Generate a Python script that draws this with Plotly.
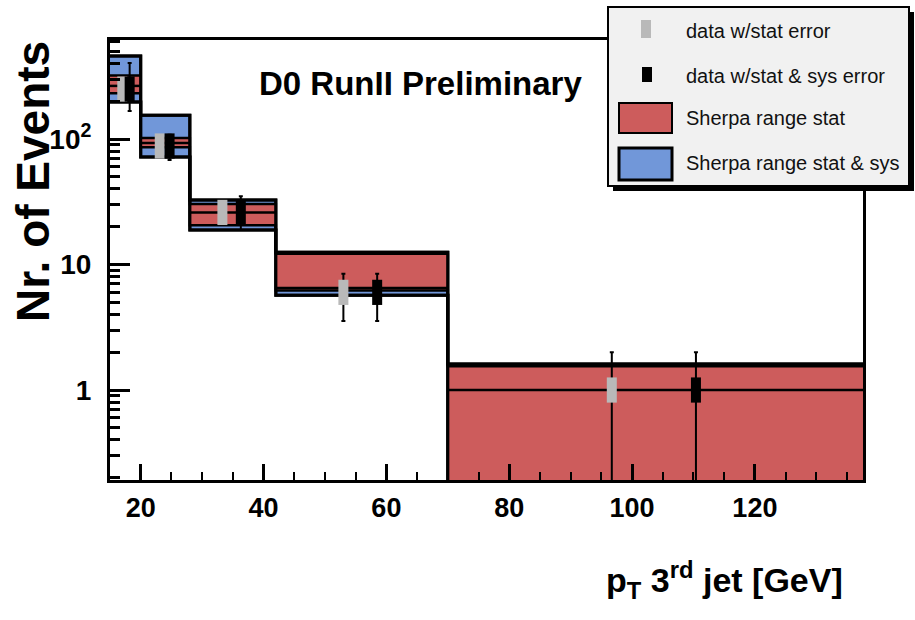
import numpy as np
import plotly.graph_objects as go

# ---------------- data ----------------
bin_edges = [15, 20, 28, 42, 70, 140]
sherpa_central = [265, 93, 26, 6.5, 1.0]
sherpa_stat_lo = [232, 86, 20.6, 6.2, 0.1]
sherpa_stat_hi = [320, 102, 30.3, 12.2, 1.55]
sherpa_sys_lo = [197, 72, 18.8, 5.7, 0.08]
sherpa_sys_hi = [459, 155, 32.6, 12.5, 1.61]

data_stat_x = [17.0, 23.1, 33.3, 53.0, 96.7]
data_sys_x = [18.2, 24.7, 36.3, 58.5, 110.4]
data_y = [250, 88, 26, 6, 1]
stat_err = [16, 9.4, 5.1, 2.45, 0.999]
sys_err_up = [154, 20, 9, 2.45, 1.0]
sys_err_dn = [83, 20, 7.2, 2.45, 0.999]

x_tick_vals = [20, 40, 60, 80, 100, 120]
y_tick_vals = [1, 10, 100]
y_tick_text = ["1", "10", "10<sup>2</sup>"]
y_minor_vals = [0.2, 0.3, 0.4, 0.5, 0.6, 0.7, 0.8, 0.9,
                2, 3, 4, 5, 6, 7, 8, 9,
                20, 30, 40, 50, 60, 70, 80, 90,
                200, 300, 400, 500, 600]

legend_labels = ["data w/stat error", "data w/stat & sys error",
                 "Sherpa range stat", "Sherpa range stat & sys"]

# ---------------- style ----------------
RED = "#cd5c5c"
BLUE = "#7197d9"
GRAY = "#b9b9b9"
FONT = "Liberation Sans, Arial, Helvetica, sans-serif"

W, H = 915, 620
L, R, T, B = 110, 52, 40, 140
PW, PH = W - L - R, H - T - B


def px(xp):
    return (xp - L) / PW


def py(yp):
    return (H - B - yp) / PH


def step(vals):
    return list(vals) + [vals[-1]]


fig = go.Figure()

edges = list(bin_edges)
# stat & sys band (blue)
fig.add_trace(go.Scatter(x=edges, y=step(sherpa_sys_lo), mode="lines", line_shape="hv",
                         line=dict(color="black", width=3), showlegend=False, hoverinfo="skip"))
fig.add_trace(go.Scatter(x=edges, y=step(sherpa_sys_hi), mode="lines", line_shape="hv",
                         fill="tonexty", fillcolor=BLUE,
                         line=dict(color="black", width=3), showlegend=False, hoverinfo="skip"))
# stat band (red)
fig.add_trace(go.Scatter(x=edges, y=step(sherpa_stat_lo), mode="lines", line_shape="hv",
                         line=dict(color="black", width=2.5), showlegend=False, hoverinfo="skip"))
fig.add_trace(go.Scatter(x=edges, y=step(sherpa_stat_hi), mode="lines", line_shape="hv",
                         fill="tonexty", fillcolor=RED,
                         line=dict(color="black", width=2.5), showlegend=False, hoverinfo="skip"))
# outer outlines on top
fig.add_trace(go.Scatter(x=edges, y=step(sherpa_sys_lo), mode="lines", line_shape="hv",
                         line=dict(color="black", width=3), showlegend=False, hoverinfo="skip"))
fig.add_trace(go.Scatter(x=edges, y=step(sherpa_sys_hi), mode="lines", line_shape="hv",
                         line=dict(color="black", width=3), showlegend=False, hoverinfo="skip"))
# central value
cx, cy = [], []
for i, c in enumerate(sherpa_central):
    cx += [edges[i], edges[i + 1], None]
    cy += [c, c, None]
fig.add_trace(go.Scatter(x=cx, y=cy, mode="lines", line=dict(color="black", width=2.5),
                         showlegend=False, hoverinfo="skip"))

# data points
fig.add_trace(go.Scatter(
    x=data_stat_x, y=data_y, mode="markers", showlegend=False,
    marker=dict(symbol="line-ns", size=18, color=GRAY, line=dict(color=GRAY, width=10)),
    error_y=dict(type="data", array=stat_err, arrayminus=stat_err, color="black",
                 thickness=2, width=2)))
fig.add_trace(go.Scatter(
    x=data_sys_x, y=data_y, mode="markers", showlegend=False,
    marker=dict(symbol="line-ns", size=18, color="black", line=dict(color="black", width=10)),
    error_y=dict(type="data", array=sys_err_up, arrayminus=sys_err_dn, color="black",
                 thickness=2, width=2)))

fig.update_xaxes(
    range=[15, 137.6], showgrid=False, zeroline=False,
    showline=True, mirror=True, linewidth=3, linecolor="black",
    tickmode="array", tickvals=x_tick_vals,
    ticks="inside", ticklen=16, tickwidth=2.5, tickcolor="black",
    minor=dict(ticks="inside", ticklen=8, tickwidth=2, tickcolor="black", dtick=5, showgrid=False),
    tickfont=dict(family=FONT, size=27, color="black", weight="bold"),
    ticklabelstandoff=2,
)
fig.update_yaxes(
    type="log", range=[-0.717, 2.789], showgrid=False, zeroline=False,
    showline=True, mirror=True, linewidth=3, linecolor="black",
    tickmode="array", tickvals=y_tick_vals, ticktext=y_tick_text,
    ticks="inside", ticklen=20, tickwidth=2.5, tickcolor="black",
    minor=dict(ticks="inside", ticklen=10, tickwidth=3, tickcolor="black",
               tickmode="array", tickvals=y_minor_vals, showgrid=False),
    tickfont=dict(family=FONT, size=28, color="black", weight="bold"),
    ticklabelstandoff=10,
)

shapes = []
# legend shadow and box
shapes.append(dict(type="rect", xref="paper", yref="paper",
                   x0=px(613), x1=px(914), y0=py(191), y1=py(12),
                   fillcolor="black", line=dict(width=0), layer="above"))
shapes.append(dict(type="rect", xref="paper", yref="paper",
                   x0=px(608), x1=px(909), y0=py(186), y1=py(7),
                   fillcolor="#f1f1f1", line=dict(color="black", width=2), layer="above"))
# legend symbols
shapes.append(dict(type="rect", xref="paper", yref="paper",
                   x0=px(641), x1=px(651), y0=py(38), y1=py(20),
                   fillcolor=GRAY, line=dict(width=0), layer="above"))
shapes.append(dict(type="rect", xref="paper", yref="paper",
                   x0=px(642), x1=px(652), y0=py(82), y1=py(67),
                   fillcolor="black", line=dict(width=0), layer="above"))
shapes.append(dict(type="rect", xref="paper", yref="paper",
                   x0=px(619), x1=px(672), y0=py(133), y1=py(103),
                   fillcolor=RED, line=dict(color="black", width=2), layer="above"))
shapes.append(dict(type="rect", xref="paper", yref="paper",
                   x0=px(619), x1=px(672), y0=py(180), y1=py(148),
                   fillcolor=BLUE, line=dict(color="black", width=3), layer="above"))

annotations = []
for lab, yc in zip(legend_labels, [31, 76, 118, 163]):
    annotations.append(dict(text=lab, xref="paper", yref="paper", x=px(684), y=py(yc),
                            xanchor="left", yanchor="middle", showarrow=False,
                            font=dict(family=FONT, size=20, color="#111111")))
annotations.append(dict(text="D0 RunII Preliminary", xref="paper", yref="paper",
                        x=px(420), y=py(83), xanchor="center", yanchor="middle", showarrow=False,
                        font=dict(family=FONT, size=33, color="black", weight="bold")))
annotations.append(dict(text="p<sub>T</sub> 3<sup>rd</sup> jet [GeV]", xref="paper", yref="paper",
                        x=px(845), y=py(580), xanchor="right", yanchor="middle", showarrow=False,
                        font=dict(family=FONT, size=34, color="black", weight="bold")))
annotations.append(dict(text="Nr. of Events", xref="paper", yref="paper",
                        x=px(33), y=py(182), xanchor="center", yanchor="middle", showarrow=False,
                        textangle=-90,
                        font=dict(family=FONT, size=46, color="black", weight="bold")))

fig.update_layout(
    width=W, height=H, margin=dict(l=L, r=R, t=T, b=B),
    paper_bgcolor="white", plot_bgcolor="white",
    shapes=shapes, annotations=annotations, showlegend=False,
)

fig.write_html("out.html")
